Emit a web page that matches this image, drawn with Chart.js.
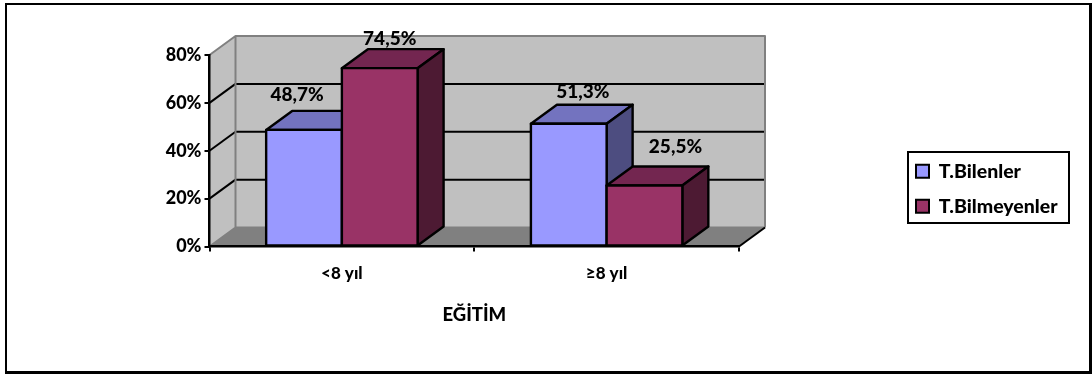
<!DOCTYPE html>
<html>
<head>
<meta charset="utf-8">
<style>
  html, body { margin: 0; padding: 0; background: #fff; }
  #wrap { width: 1092px; height: 374px; }
</style>
<script src="https://cdn.jsdelivr.net/npm/chart.js@4"></script>
</head>
<body>
<div id="wrap"><canvas id="grafico" width="1092" height="374"></canvas></div>
<script>
const categorias = ['<8 yıl', '≥8 yıl'];
const seriesNombres = ['T.Bilenler', 'T.Bilmeyenler'];
const bilenler = [48.7, 51.3];
const bilmeyenler = [74.5, 25.5];
const tituloEje = 'EĞİTİM';

const AZUL = ['#9999FF', '#7373BF', '#4D4D80'];    // frente, tapa, lado
const GRANATE = ['#993366', '#732650', '#4D1A33'];
const PROF_X = 26, PROF_Y = 19;                    // profundidad del efecto 3D
const FUENTE = 'Lato';
const PESO = 900;
const BORDE_BARRA = 2.4;

// desplazamiento de cada etiqueta respecto al centro/tope de su barra
const ajusteEtiquetas = [
  [[-7, -35], [14, -32]],
  [[10, -29], [31, -39]]
];

function poligono(ctx, pts, relleno, borde, ancho) {
  ctx.beginPath();
  pts.forEach((p, i) => i ? ctx.lineTo(p[0], p[1]) : ctx.moveTo(p[0], p[1]));
  ctx.closePath();
  if (relleno) { ctx.fillStyle = relleno; ctx.fill(); }
  if (borde) { ctx.strokeStyle = borde; ctx.lineWidth = ancho; ctx.stroke(); }
}

function linea(ctx, x1, y1, x2, y2, color, ancho) {
  ctx.beginPath();
  ctx.moveTo(x1, y1);
  ctx.lineTo(x2, y2);
  ctx.strokeStyle = color;
  ctx.lineWidth = ancho;
  ctx.stroke();
}

// marco exterior, paredes, suelo y rejilla
const paredes = {
  id: 'paredes',
  beforeDraw(chart) {
    const { ctx, chartArea: a, scales } = chart;
    ctx.save();
    linea(ctx, 5, 4, 1092, 4, '#000', 2);
    linea(ctx, 6, 3, 6, 374, '#000', 2);
    linea(ctx, 1090.5, 3, 1090.5, 374, '#000', 3);
    linea(ctx, 5, 372.5, 1092, 372.5, '#000', 3);

    const fondoTop = a.top - PROF_Y, fondoBot = a.bottom - PROF_Y;
    const fondoIzq = a.left + PROF_X, fondoDer = a.right + PROF_X;
    poligono(ctx, [[a.left, a.top], [fondoIzq, fondoTop], [fondoIzq, fondoBot], [a.left, a.bottom]], '#C0C0C0');
    poligono(ctx, [[fondoIzq, fondoTop], [fondoDer, fondoTop], [fondoDer, fondoBot], [fondoIzq, fondoBot]], '#C0C0C0');
    poligono(ctx, [[a.left, a.bottom], [fondoIzq, fondoBot], [fondoDer, fondoBot], [a.right, a.bottom]], '#808080');

    scales.y.ticks.forEach(t => {
      if (t.value === 0 || t.value === 80) return;
      const y = scales.y.getPixelForValue(t.value);
      linea(ctx, a.left, y, fondoIzq, y - PROF_Y, '#000', 2);
      linea(ctx, fondoIzq, y - PROF_Y, fondoDer, y - PROF_Y, '#000', 2);
    });

    ctx.lineJoin = 'round';
    ctx.beginPath();
    ctx.moveTo(a.left, a.bottom);
    ctx.lineTo(fondoIzq, fondoBot);
    ctx.lineTo(fondoIzq, fondoTop);
    ctx.lineTo(a.left, a.top);
    ctx.moveTo(fondoIzq, fondoTop);
    ctx.lineTo(fondoDer, fondoTop);
    ctx.lineTo(fondoDer, fondoBot);
    ctx.moveTo(fondoIzq, fondoBot);
    ctx.lineTo(fondoDer, fondoBot);
    ctx.strokeStyle = '#808080';
    ctx.lineWidth = 2;
    ctx.stroke();
    linea(ctx, a.right, a.bottom, fondoDer, fondoBot, '#000', 2);
    ctx.restore();
  },
  afterLayout(chart) {
    // la leyenda va fuera del área del gráfico, a la derecha
    const leg = chart.legend;
    const w = leg.width, h = leg.height;
    leg.left = 900.5;
    leg.right = 900.5 + w;
    leg.top = 146;
    leg.bottom = 146 + h;
  },
  afterDraw(chart) {
    const { ctx } = chart;
    ctx.save();
    ctx.strokeStyle = '#000';
    ctx.lineWidth = 2;
    ctx.strokeRect(908, 152, 161, 71);
    ctx.restore();
  }
};

// caras laterales de cada barra y etiquetas de valor
const barras3d = {
  id: 'barras3d',
  afterDatasetsDraw(chart) {
    const { ctx } = chart;
    ctx.save();
    ctx.lineJoin = 'round';
    chart.data.datasets.forEach((ds, i) => {
      const tonos = i === 0 ? AZUL : GRANATE;
      chart.getDatasetMeta(i).data.forEach(el => {
        const izq = el.x - el.width / 2, der = el.x + el.width / 2;
        poligono(ctx, [[izq, el.y], [izq + PROF_X, el.y - PROF_Y], [der + PROF_X, el.y - PROF_Y], [der, el.y]], tonos[1], '#000', BORDE_BARRA);
        poligono(ctx, [[der, el.y], [der + PROF_X, el.y - PROF_Y], [der + PROF_X, el.base - PROF_Y], [der, el.base]], tonos[2], '#000', BORDE_BARRA);
        el.draw(ctx);
        ctx.strokeStyle = '#000';
        ctx.lineWidth = BORDE_BARRA;
        ctx.strokeRect(izq, el.y, el.width, el.base - el.y);
      });
    });
    ctx.fillStyle = '#000';
    ctx.font = PESO + ' 19px ' + FUENTE;
    ctx.textAlign = 'center';
    ctx.textBaseline = 'middle';
    chart.data.datasets.forEach((ds, i) => {
      chart.getDatasetMeta(i).data.forEach((el, j) => {
        const texto = ds.data[j].toFixed(1).replace('.', ',') + '%';
        const aj = ajusteEtiquetas[i][j];
        ctx.fillText(texto, el.x + aj[0], el.y + aj[1]);
      });
    });
    ctx.restore();
  }
};

new Chart(document.getElementById('grafico'), {
  type: 'bar',
  data: {
    labels: categorias,
    datasets: [
      { label: seriesNombres[0], data: bilenler, backgroundColor: AZUL[0], borderColor: '#000', borderWidth: 0 },
      { label: seriesNombres[1], data: bilmeyenler, backgroundColor: GRANATE[0], borderColor: '#000', borderWidth: 0 }
    ]
  },
  plugins: [paredes, barras3d],
  options: {
    responsive: false,
    animation: false,
    events: [],
    categoryPercentage: 0.572,
    barPercentage: 1,
    layout: { padding: { left: 0, top: 55, right: 353, bottom: 0 } },
    plugins: {
      tooltip: { enabled: false },
      legend: {
        position: 'chartArea',
        align: 'start',
        labels: {
          boxWidth: 13,
          boxHeight: 13,
          padding: 15.5,
          color: '#000',
          font: { family: FUENTE, weight: PESO, size: 19.5 },
          generateLabels(chart) {
            return chart.data.datasets.map((ds, i) => ({
              text: ds.label,
              fillStyle: ds.backgroundColor,
              strokeStyle: '#000',
              lineWidth: 2,
              datasetIndex: i
            }));
          }
        }
      }
    },
    scales: {
      x: {
        afterFit(scale) { scale.height = 127.5; },
        grid: { drawOnChartArea: false, drawTicks: true, tickLength: 5, color: '#000', lineWidth: 2 },
        border: { color: '#000', width: 2.5 },
        ticks: { color: '#000', padding: 12, font: { family: FUENTE, weight: PESO, size: 17 } },
        title: { display: true, text: tituloEje, color: '#000', padding: { top: 10, bottom: 48 }, font: { family: FUENTE, weight: PESO, size: 18.5 } }
      },
      y: {
        min: 0,
        max: 80,
        afterFit(scale) { scale.width = 209.5; },
        grid: { drawOnChartArea: false, drawTicks: true, tickLength: 5, color: '#000', lineWidth: 2 },
        border: { color: '#000', width: 2.5 },
        ticks: {
          stepSize: 20,
          color: '#000',
          padding: 3,
          font: { family: FUENTE, weight: PESO, size: 18 },
          callback: v => v + '%'
        }
      }
    }
  }
});
</script>
</body>
</html>
